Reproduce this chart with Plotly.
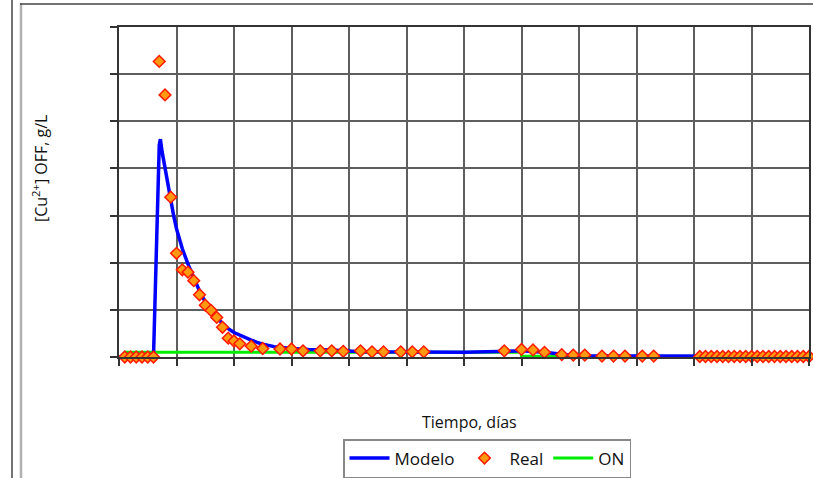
import plotly.graph_objects as go

# Model curve (days, g/L)
modelo_dias = [0, 1, 2, 3, 4, 5, 6.0, 7.0, 7.2, 7.5, 8.0, 8.5, 9.0, 9.5, 10, 11, 12, 13, 14, 15,
               16, 17, 18, 19, 20, 21, 22, 23, 24, 25, 27, 30, 33, 37, 42, 50, 60, 70, 72, 74,
               77, 80, 90, 100, 110, 120]
modelo_val = [0, 0, 0, 0, 0, 0, 0, 4.5, 4.62, 4.35, 4.0, 3.65, 3.32, 3.0, 2.72, 2.3, 1.97, 1.66,
              1.40, 1.17, 0.98, 0.83, 0.71, 0.60, 0.52, 0.46, 0.41, 0.36, 0.31, 0.27, 0.22,
              0.18, 0.16, 0.15, 0.11, 0.10, 0.10, 0.13, 0.12, 0.10, 0.06, 0.025, 0.02, 0.015,
              0.015, 0.015]

# Measured data
real_dias = [1, 2, 3, 4, 5, 6, 7, 8, 9, 10, 11, 12, 13, 14, 15, 16, 17, 18, 19, 20, 21, 23, 25,
             28, 30, 32, 35, 37, 39, 42, 44, 46, 49, 51, 53, 67, 70, 72, 74, 77, 79, 81, 84, 86,
             88, 91, 93] + list(range(101, 121))
real_val = [0, 0, 0, 0, 0, 0, 6.27, 5.56, 3.39, 2.2, 1.85, 1.80, 1.62, 1.32, 1.10, 0.99, 0.84,
            0.63, 0.40, 0.34, 0.28, 0.23, 0.18, 0.17, 0.17, 0.13, 0.13, 0.13, 0.12, 0.13, 0.11,
            0.11, 0.11, 0.11, 0.11, 0.13, 0.16, 0.15, 0.10, 0.05, 0.04, 0.04, 0.02, 0.02, 0.02,
            0.02, 0.02] + [0.01] * 20

# ON series
on_dias = [1, 70, 70, 120]
on_val = [0.10, 0.10, 0.015, 0.015]

fig = go.Figure()
fig.add_trace(go.Scatter(x=on_dias, y=on_val, mode="lines", name="ON",
                         line=dict(color="#00ee00", width=3), legendrank=3))
fig.add_trace(go.Scatter(x=modelo_dias, y=modelo_val, mode="lines", name="Modelo",
                         line=dict(color="#0000ff", width=3.5), legendrank=1))
fig.add_trace(go.Scatter(x=real_dias, y=real_val, mode="markers", name="Real", cliponaxis=False,
                         marker=dict(symbol="diamond", size=9, color="#ff9a10",
                                     line=dict(color="#ff1a00", width=1.5)), legendrank=2))

axis_common = dict(showticklabels=False, ticks="outside", tickcolor="#333333", ticklen=7,
                   tickwidth=1.5, showgrid=True, gridcolor="#5e5e5e", gridwidth=1.5,
                   showline=True, linecolor="#333333", linewidth=2, mirror=True, zeroline=False,
                   automargin=False)

fig.update_xaxes(range=[0, 120], dtick=10, tick0=0, **axis_common)
fig.update_yaxes(range=[0, 7], dtick=1, tick0=0, **axis_common)

W, H = 813, 478
L, R, T, B = 119, 809, 27, 357
pw, ph = R - L, B - T

def px(x):
    return (x - L) / pw

def py(y):
    return (B - y) / ph

fig.update_layout(
    width=W, height=H,
    margin=dict(l=L, r=W - R, t=T, b=H - B, autoexpand=False),
    paper_bgcolor="white", plot_bgcolor="white",
    font=dict(family="Open Sans", color="#111111"),
    showlegend=True,
    legend=dict(orientation="h", x=px(487), xanchor="center", y=py(439), yanchor="top",
                bordercolor="#888888", borderwidth=1.5, font=dict(size=17),
                itemwidth=40, bgcolor="white", traceorder="normal"),
    annotations=[
        dict(text="Tiempo, días", xref="paper", yref="paper", x=px(469), y=py(422),
             xanchor="center", yanchor="middle", showarrow=False, font=dict(size=16)),
        dict(text="[Cu<sup>2+</sup>] OFF, g/L", xref="paper", yref="paper", x=px(40), y=py(169),
             xanchor="center", yanchor="middle", textangle=-90, showarrow=False,
             font=dict(size=16)),
    ],
    shapes=[
        dict(type="line", xref="paper", yref="paper", x0=px(12), x1=px(12), y0=py(0), y1=py(478),
             line=dict(color="#444444", width=1.5)),
        dict(type="line", xref="paper", yref="paper", x0=px(21), x1=px(21), y0=py(3), y1=py(478),
             line=dict(color="#b0b0b0", width=2.5)),
        dict(type="line", xref="paper", yref="paper", x0=px(20), x1=px(813), y0=py(4), y1=py(4),
             line=dict(color="#444444", width=1.5)),
    ],
)

fig.write_html("out.html", config={"displayModeBar": False},
               post_script="document.body.style.margin='0';")
